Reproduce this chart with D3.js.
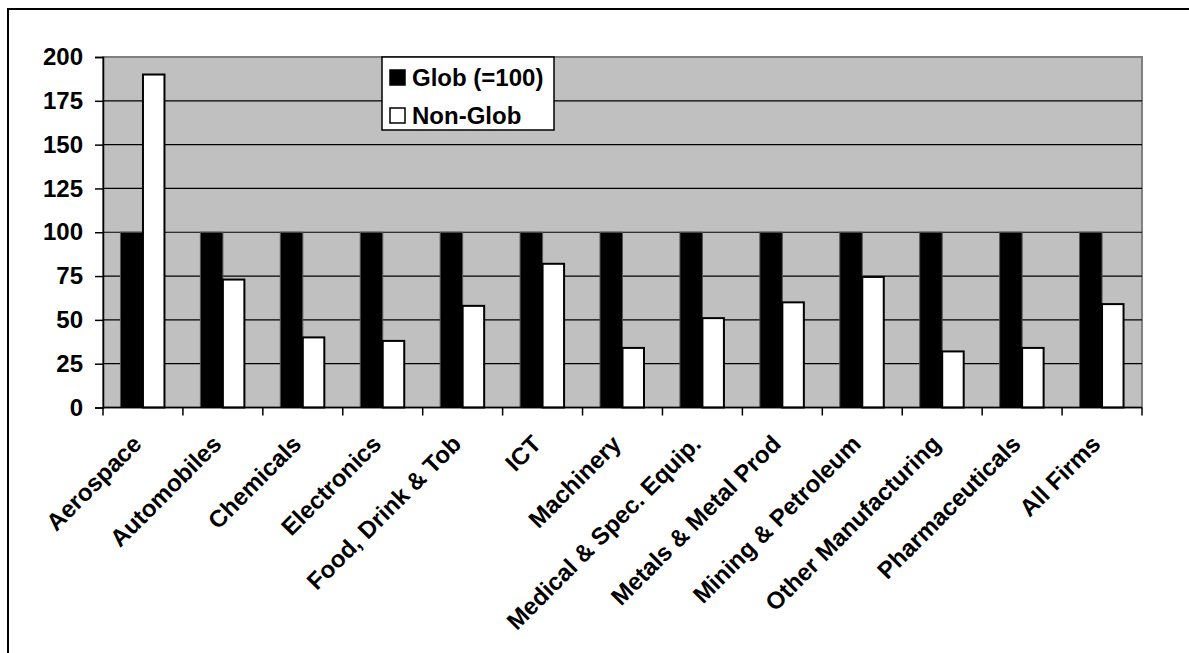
<!DOCTYPE html>
<html>
<head>
<meta charset="utf-8">
<script src="https://cdn.jsdelivr.net/npm/d3@7"></script>
<style>
  html, body { margin: 0; padding: 0; background: #fff; }
  svg { display: block; }
  text { font-family: "Liberation Sans", Arial, sans-serif; font-weight: bold; fill: #000; }
</style>
</head>
<body>
<svg id="chart" width="1189" height="653"></svg>
<script>
const categories = ["Aerospace", "Automobiles", "Chemicals", "Electronics", "Food, Drink & Tob", "ICT",
  "Machinery", "Medical & Spec. Equip.", "Metals & Metal Prod", "Mining & Petroleum",
  "Other Manufacturing", "Pharmaceuticals", "All Firms"];
const seriesNames = ["Glob (=100)", "Non-Glob"];
const globValues = [100, 100, 100, 100, 100, 100, 100, 100, 100, 100, 100, 100, 100];
const nonGlobValues = [190, 73, 40, 38, 58, 82, 34, 51, 60, 74.5, 32, 34, 59];
const yTicks = [0, 25, 50, 75, 100, 125, 150, 175, 200];

const svg = d3.select("#chart");
const plot = { left: 103, top: 57, right: 1142, bottom: 407.5 };
const FS = 24;

// outer border
svg.append("rect").attr("x", 8).attr("y", 9).attr("width", 1300).attr("height", 800)
  .attr("fill", "#fff").attr("stroke", "#000").attr("stroke-width", 2);

const x = d3.scaleBand().domain(categories).range([plot.left, plot.right]).paddingInner(0).paddingOuter(0);
const y = d3.scaleLinear().domain([0, 200]).range([plot.bottom, plot.top]);
const barW = 22.5;

// plot area
svg.append("rect").attr("x", plot.left).attr("y", plot.top)
  .attr("width", plot.right - plot.left).attr("height", plot.bottom - plot.top)
  .attr("fill", "#c0c0c0").attr("stroke", "#808080").attr("stroke-width", 2);

// gridlines
svg.append("g").selectAll("line").data(yTicks.filter(d => d > 0 && d < 200)).join("line")
  .attr("x1", plot.left).attr("x2", plot.right)
  .attr("y1", d => y(d)).attr("y2", d => y(d))
  .attr("stroke", "#000").attr("stroke-width", 1.2);

// bars
const groups = svg.append("g").selectAll("g").data(categories).join("g");
groups.append("rect")
  .attr("x", d => x(d) + x.bandwidth() / 2 - barW)
  .attr("y", (d, i) => y(globValues[i]))
  .attr("width", barW)
  .attr("height", (d, i) => y(0) - y(globValues[i]))
  .attr("fill", "#000").attr("stroke", "#555").attr("stroke-width", 1);
groups.append("rect")
  .attr("x", d => x(d) + x.bandwidth() / 2)
  .attr("y", (d, i) => y(nonGlobValues[i]))
  .attr("width", barW - 1)
  .attr("height", (d, i) => y(0) - y(nonGlobValues[i]))
  .attr("fill", "#fff").attr("stroke", "#000").attr("stroke-width", 2);

// y axis
const yAxis = d3.axisLeft(y).tickValues(yTicks).tickSize(8).tickPadding(12);
const gy = svg.append("g").attr("transform", `translate(${plot.left},0)`).call(yAxis);
gy.select(".domain").attr("stroke", "#000").attr("stroke-width", 1.5);
gy.selectAll(".tick line").attr("stroke", "#000").attr("stroke-width", 1.5);
gy.selectAll(".tick text").attr("font-size", FS).attr("font-family", "Liberation Sans, Arial, sans-serif")
  .attr("font-weight", "bold").attr("fill", "#000");

// x axis ticks at band boundaries
const xTickPos = categories.map(c => x(c)).concat([plot.right]);
svg.append("line").attr("x1", plot.left).attr("x2", plot.right)
  .attr("y1", plot.bottom).attr("y2", plot.bottom).attr("stroke", "#000").attr("stroke-width", 1.5);
svg.append("g").selectAll("line").data(xTickPos).join("line")
  .attr("x1", d => d).attr("x2", d => d)
  .attr("y1", plot.bottom).attr("y2", plot.bottom + 8)
  .attr("stroke", "#000").attr("stroke-width", 1.5);

// x labels
svg.append("g").selectAll("text").data(categories).join("text")
  .attr("transform", d => `translate(${x(d) + x.bandwidth() / 2},${plot.bottom + 38}) rotate(-45)`)
  .attr("text-anchor", "end")
  .attr("font-size", FS)
  .text(d => d);

// legend
const lg = svg.append("g").attr("transform", "translate(382,57)");
lg.append("rect").attr("width", 172).attr("height", 73).attr("fill", "#fff")
  .attr("stroke", "#000").attr("stroke-width", 1.5);
const items = lg.selectAll("g").data(seriesNames).join("g")
  .attr("transform", (d, i) => `translate(8,${13 + i * 38})`);
items.append("rect").attr("width", 15).attr("height", 15)
  .attr("fill", (d, i) => i === 0 ? "#000" : "#fff").attr("stroke", "#000").attr("stroke-width", 1.5);
items.append("text").attr("x", 22).attr("y", 15.5).attr("font-size", FS).text(d => d);
</script>
</body>
</html>
